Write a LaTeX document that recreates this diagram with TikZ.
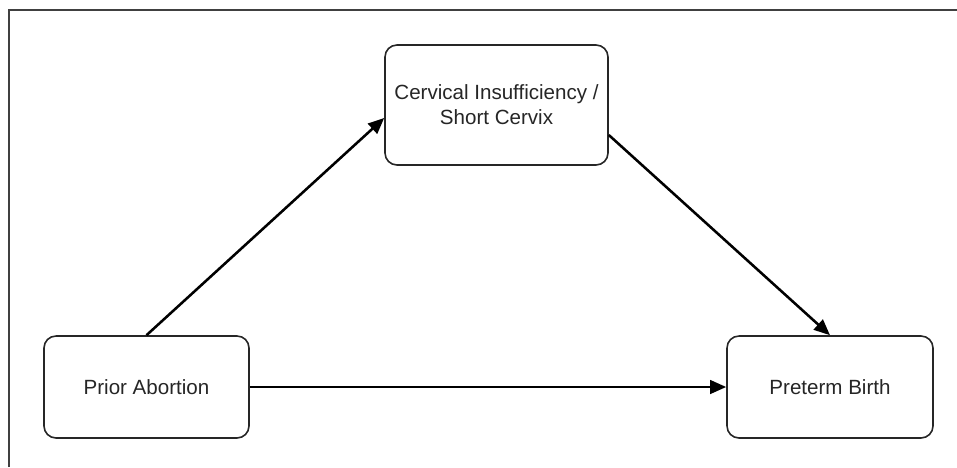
\documentclass[tikz,border=0pt]{standalone}
\usepackage{fontspec}
\setmainfont{Liberation Sans}
\usetikzlibrary{arrows.meta}

\begin{document}
\begin{tikzpicture}
  \tikzstyle{box} = [draw, black!85, text=black!85, rounded corners=0.24cm, line width=0.9pt, align=center,
                     font=\fontsize{11.7}{14.2}\selectfont, fill=white]
  \tikzstyle{e} = [line width=1.45pt, -{Triangle[length=0.32cm,width=0.27cm]}];
  \useasboundingbox (0,0) rectangle (19.14,9.34);
  \draw[line width=0.75pt, black!75] (0.18,0) -- (0.18,9.14) -- (19.14,9.14);

  \node[box, minimum width=4.46cm, minimum height=2.4cm](ci) at (9.93,7.24)
    {Cervical Insufficiency /\\Short Cervix};
  \node[box, minimum width=4.1cm, minimum height=2.04cm](pa) at (2.93,1.6){Prior Abortion};
  \node[box, minimum width=4.12cm, minimum height=2.04cm](pb) at (16.6,1.6){Preterm Birth};

  \draw[e](pa.north)--([yshift=-0.26cm]ci.west);
  \draw[e]([yshift=-0.6cm]ci.east)--(pb.north);
  \draw[e](pa.east)--(pb.west);

  \end{tikzpicture}
\end{document}
